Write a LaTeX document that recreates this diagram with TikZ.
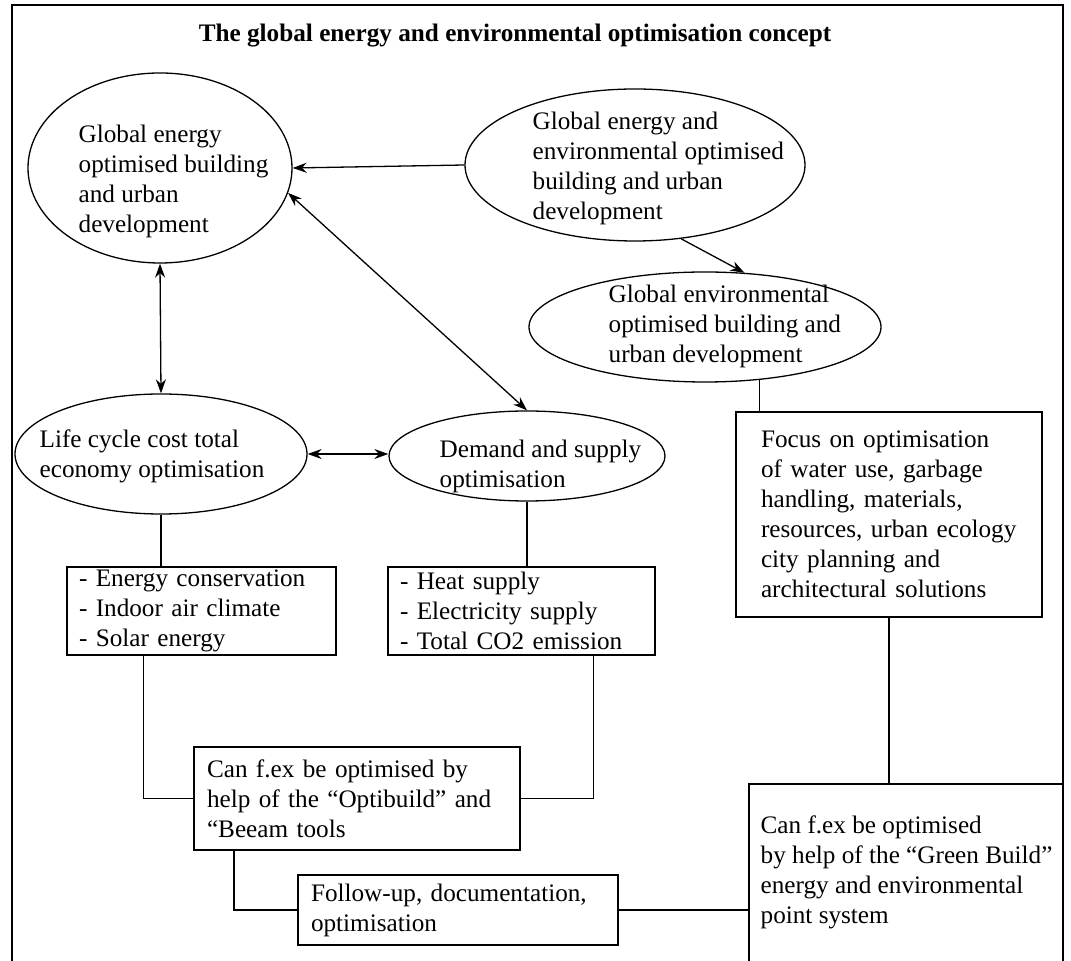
\documentclass[tikz,border=0pt]{standalone}
\usepackage{fontspec}
\setmainfont{Liberation Serif}
\usetikzlibrary{shapes.geometric,arrows.meta}

\begin{document}
\begin{tikzpicture}[x=0.5pt,y=-0.5pt,line width=0.65pt,
    font=\fontsize{12.6}{15}\selectfont,
    oval/.style={draw,ellipse,inner sep=0pt},
    box/.style={draw,rectangle,inner xsep=6pt,inner ysep=1pt,align=left},
    txt/.style={inner sep=0pt,align=left,anchor=base west},
    arr/.style={-{Stealth[length=7pt,width=5pt]}},
    darr/.style={{Stealth[length=7pt,width=5pt]}-{Stealth[length=7pt,width=5pt]}}]
\useasboundingbox (0,0) rectangle (1071,961);
% frame and title
\draw[line width=1pt] (12,990) -- (12,5) -- (1063,5) -- (1063,990);
\node[font=\fontsize{12.6}{15}\selectfont\bfseries] (title) at (515,36)
  {The global energy and environmental optimisation concept};
% ovals (text nodes sit on the baseline of their last line)
\node[oval,minimum width=132pt,minimum height=95pt] (e1) at (160,168) {};
\node[txt] (e1t) at (78,233) {Global energy\\optimised building\\and urban\\development};
\node[oval,minimum width=170pt,minimum height=76pt] (e2) at (635,165) {};
\node[txt] (e2t) at (532,220) {Global energy and\\environmental optimised\\building and urban\\development};
\node[oval,minimum width=176pt,minimum height=55pt] (e3) at (705,327) {};
\node[txt] (e3t) at (608,363) {Global environmental\\optimised building and\\urban development};
\node[oval,minimum width=146pt,minimum height=60pt] (e4) at (161,454) {};
\node[txt] (e4t) at (39,478) {Life cycle cost total\\economy optimisation};
\node[oval,minimum width=138pt,minimum height=45pt] (e5) at (527,456) {};
\node[txt] (e5t) at (439,488) {Demand and supply\\optimisation};
% boxes
\node[box,minimum width=134.5pt,minimum height=44pt,text width=122.5pt] (b1) at (201.5,611)
  {- Energy conservation\\- Indoor air climate\\- Solar energy};
\node[box,minimum width=133.5pt,minimum height=44pt,text width=121.5pt] (b2) at (521.5,611)
  {- Heat supply\\- Electricity supply\\- Total CO2 emission};
\node[box,minimum width=153pt,minimum height=102.5pt,text width=128pt,inner xsep=12.5pt] (foc) at (889,514.5)
  {Focus on optimisation\\of water use, garbage\\handling, materials,\\resources, urban ecology\\city planning and\\architectural solutions};
\node[box,minimum width=163pt,minimum height=51.5pt,text width=150pt,inner xsep=6.5pt] (b3) at (357,798.5)
  {Can f.ex be optimised by\\help of the “Optibuild” and\\“Beeam tools};
\node[box,minimum width=160pt,minimum height=35pt,text width=147pt,inner xsep=6.5pt] (b4) at (458,910)
  {Follow-up, documentation,\\optimisation};
\node[draw,minimum width=157pt,minimum height=108pt,inner sep=0pt] (b5) at (906,892) {};
\node[txt] (b5t) at (760,923) {Can f.ex be optimised\\by help of the “Green Build”\\energy and environmental\\point system};
% arrows
\draw[arr] (e2.west) -- (e1.east);
\draw[arr] (e2.-58) -- (e3.54);
\draw[darr] (e1.south) -- (e4.north);
\draw[darr] (e1.-11) -- (e5.north);
\draw[darr] (e4.east) -- (e4.east -| e5.west);
% connectors
\draw (e4.south) -- (e4.south |- b1.north);
\draw (e5.south) -- (e5.south |- b2.north);
\draw (e3.-44) -- (e3.-44 |- foc.north);
\draw ([xshift=-29pt]b1.south) |- (b3.west);
\draw ([xshift=36pt]b2.south) |- (b3.east);
\draw ([xshift=-61.5pt]b3.south) |- (b4.west);
\draw (b4.east) -- (b4.east -| b5.west);
\draw (foc.south) -- (foc.south |- b5.north);
\end{tikzpicture}
\end{document}
